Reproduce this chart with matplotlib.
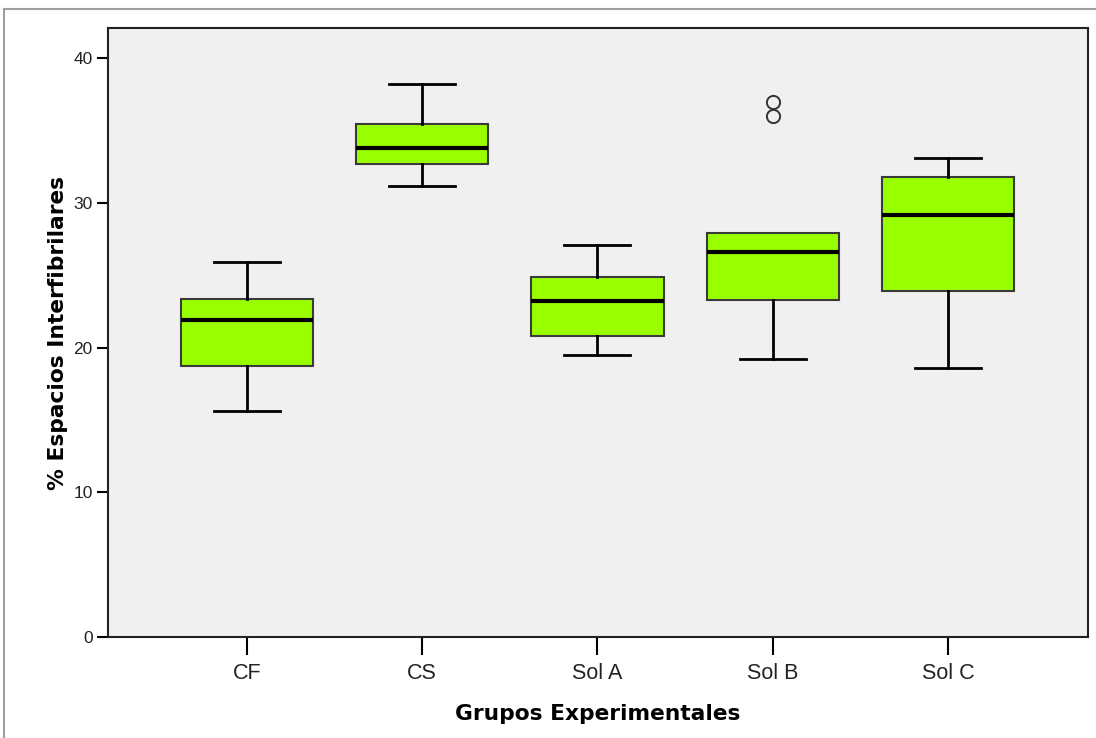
import matplotlib
matplotlib.use("Agg")
import matplotlib.pyplot as plt
from matplotlib.lines import Line2D

# Group labels and five-number summaries (%)
groups = ["CF", "CS", "Sol A", "Sol B", "Sol C"]
whisker_low = [15.6, 31.2, 19.5, 19.2, 18.6]
q1 = [18.7, 32.7, 20.8, 23.3, 23.9]
median = [21.9, 33.8, 23.2, 26.6, 29.2]
q3 = [23.4, 35.5, 24.9, 27.9, 31.8]
whisker_high = [25.9, 38.2, 27.1, 27.9, 33.1]
outliers = [[], [], [], [36.0, 37.0], []]

y_ticks = [0, 10, 20, 30, 40]

stats = []
for i, name in enumerate(groups):
    stats.append(dict(label=name, whislo=whisker_low[i], q1=q1[i], med=median[i],
                      q3=q3[i], whishi=whisker_high[i], fliers=outliers[i]))

fig = plt.figure(figsize=(10.96, 7.38), dpi=100)
ax = fig.add_axes([0.0985, 0.1369, 0.8942, 0.8251])
ax.set_facecolor("#F0F0F0")

positions = list(range(1, len(groups) + 1))
parts = ax.bxp(stats, positions=positions, widths=0.755, patch_artist=True,
               boxprops=dict(facecolor="#99FF00", edgecolor="#3A3A3A", linewidth=1.5),
               medianprops=dict(color="black", linewidth=3),
               whiskerprops=dict(color="black", linewidth=2),
               capprops=dict(color="black", linewidth=2),
               capwidths=0.377,
               flierprops=dict(marker="o", markerfacecolor="none", markeredgecolor="#333333",
                               markersize=9.5, markeredgewidth=1.4))

# A whisker that ends at the box edge gets no cap
for i in range(len(groups)):
    if whisker_high[i] <= q3[i]:
        parts["caps"][2 * i + 1].set_visible(False)
    if whisker_low[i] >= q1[i]:
        parts["caps"][2 * i].set_visible(False)

ax.set_xlim(0.206, 5.8)
ax.set_ylim(0, 42.1)
ax.set_yticks(y_ticks)
ax.set_xticks(positions)
ax.set_xticklabels(groups, family="Liberation Sans", fontsize=15.5, color="#222222")
for t in ax.get_yticklabels():
    t.set_family("Liberation Sans")
    t.set_fontsize(12.5)
    t.set_color("#222222")

ax.tick_params(axis="y", length=8, width=1.5, pad=3)
ax.tick_params(axis="x", length=13, width=1.5, pad=6)
for s in ax.spines.values():
    s.set_linewidth(1.5)
    s.set_color("#222222")

ax.set_xlabel("Grupos Experimentales", fontsize=15.7, fontweight="bold", labelpad=14)
ax.set_ylabel("% Espacios Interfibrilares", fontsize=15.7, fontweight="bold", labelpad=4)

# Outer panel frame lines
fig.add_artist(Line2D([4 / 1096, 1], [1 - 9 / 738, 1 - 9 / 738], color="#A0A0A0", linewidth=1.5,
                      transform=fig.transFigure))
fig.add_artist(Line2D([4 / 1096, 4 / 1096], [0, 1 - 9 / 738], color="#A0A0A0", linewidth=1.5,
                      transform=fig.transFigure))

fig.savefig("out.png", dpi=100)
